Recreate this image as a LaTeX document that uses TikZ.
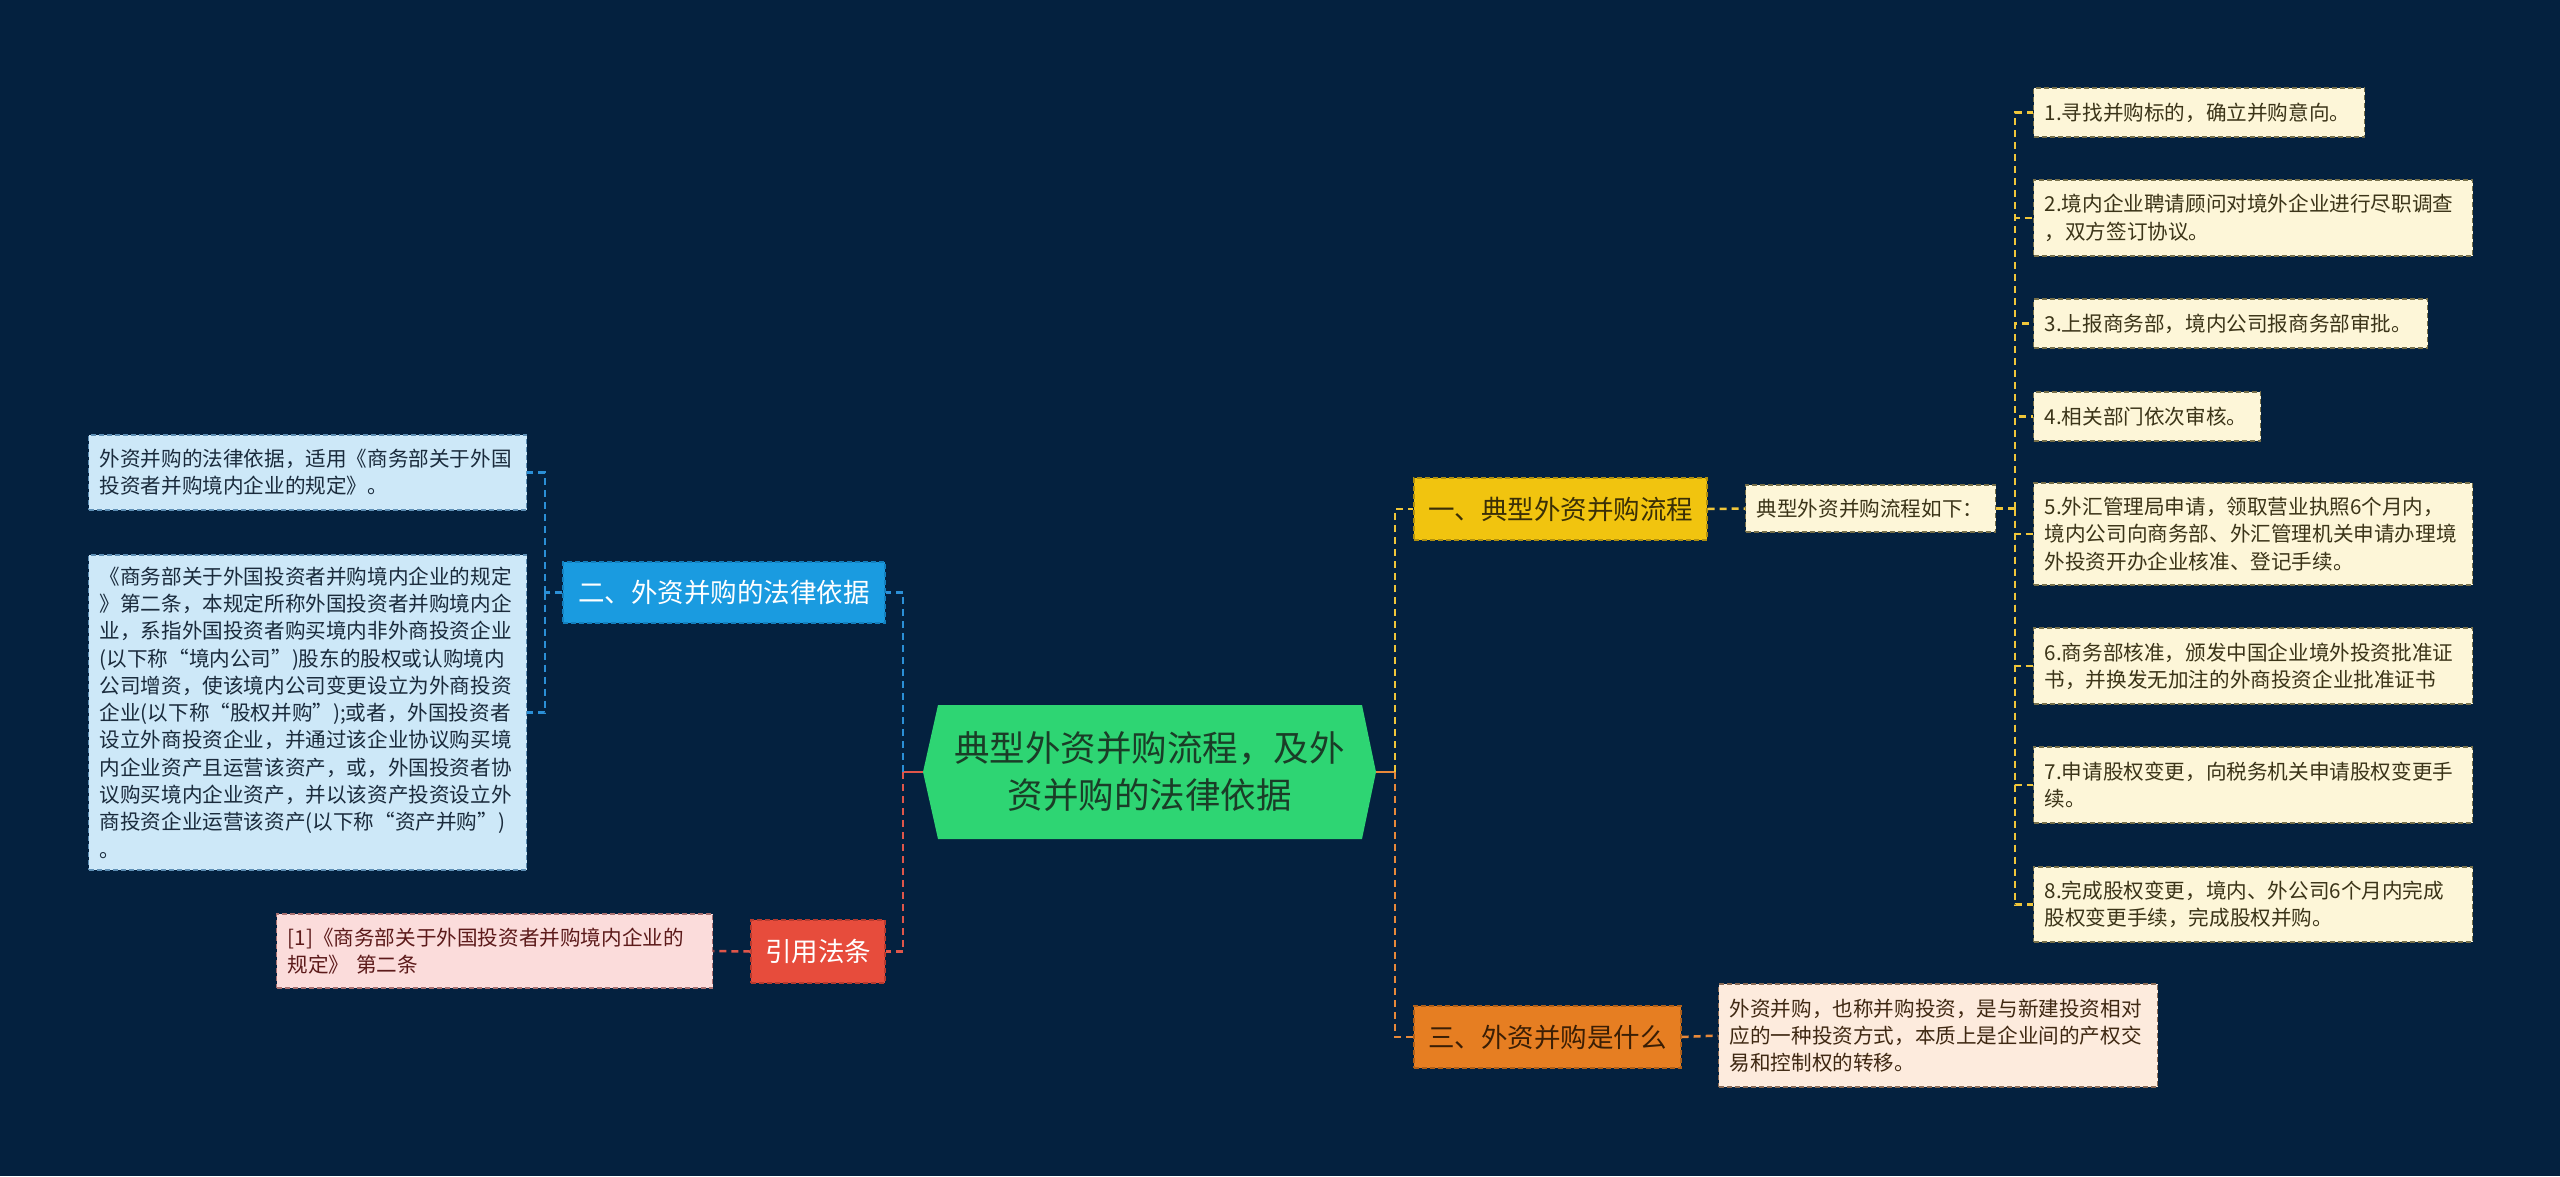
\documentclass[tikz,border=0pt]{standalone}
\usepackage{fontspec}
\setmainfont{Noto Sans CJK SC}
\definecolor{bg}{HTML}{04213F}
\definecolor{cgreen}{HTML}{2ED573}
\definecolor{ctext}{HTML}{1A3D27}
\definecolor{bnode}{HTML}{1A9BE0}
\definecolor{bnodeb}{HTML}{1380BF}
\definecolor{bleaf}{HTML}{CDE8F8}
\definecolor{bleafb}{HTML}{5E8FB5}
\definecolor{bleaft}{HTML}{1A2B3C}
\definecolor{bconnc}{HTML}{2B8FD6}
\definecolor{rnode}{HTML}{E74C3C}
\definecolor{rnodeb}{HTML}{B83A2E}
\definecolor{rleaf}{HTML}{FBDCDB}
\definecolor{rleafb}{HTML}{A87070}
\definecolor{rleaft}{HTML}{5C1A1A}
\definecolor{rconnc}{HTML}{E0564A}
\definecolor{ynode}{HTML}{F1C40F}
\definecolor{ynodeb}{HTML}{B0900F}
\definecolor{ynodet}{HTML}{3A2F07}
\definecolor{yleaf}{HTML}{FDF6D8}
\definecolor{yleafb}{HTML}{77704A}
\definecolor{yleaft}{HTML}{3B3418}
\definecolor{yconnc}{HTML}{F0C63A}
\definecolor{onode}{HTML}{E67E22}
\definecolor{onodeb}{HTML}{B05F18}
\definecolor{onodet}{HTML}{3A1E05}
\definecolor{oleaf}{HTML}{FDEBDD}
\definecolor{oleafb}{HTML}{8A6A55}
\definecolor{oleaft}{HTML}{3F2812}
\definecolor{oconnc}{HTML}{E8893A}
\begin{document}
\begin{tikzpicture}[x=1pt,y=-1pt,
  conn/.style={line width=2.5pt, dash pattern=on 7pt off 5pt},
  box/.style={inner xsep=11pt, inner ysep=0pt, dash pattern=on 5pt off 3pt, line width=1.3pt},
  leaf/.style={box, anchor=west, align=left, text width=#1, font=\fontsize{20.6}{27.3}\selectfont},
  topic/.style={box, align=center, font=\fontsize{26.5}{32}\selectfont},
  bleafs/.style={leaf=#1, fill=bleaf, draw=bleafb, text=bleaft},
  rleafs/.style={leaf=#1, fill=rleaf, draw=rleafb, text=rleaft},
  yleafs/.style={leaf=#1, fill=yleaf, draw=yleafb, text=yleaft},
  oleafs/.style={leaf=#1, fill=oleaf, draw=oleafb, text=oleaft},
]
\useasboundingbox (0,0) rectangle (2560,1176);
\fill[bg] (0,0) rectangle (2560,1176);

% central topic
\fill[cgreen] (938,705) -- (1362,705) -- (1376,772) -- (1362,839) -- (938,839) -- (923,772) -- cycle;
\node[minimum width=453pt, minimum height=134pt, inner sep=0pt, align=center, text=ctext,
      font=\fontsize{35.5}{47}\selectfont] (c) at (1149.5,772) {典型外资并购流程，及外\\资并购的法律依据};

% main topics
\node[topic, fill=bnode, draw=bnodeb, text=white, minimum width=322pt, minimum height=61pt] (b) at (724,592.5) {二、外资并购的法律依据};
\node[topic, fill=rnode, draw=rnodeb, text=white, minimum width=134pt, minimum height=63pt] (r) at (818,951.5) {引用法条};
\node[topic, fill=ynode, draw=ynodeb, text=ynodet, minimum width=293pt, minimum height=62pt] (y) at (1560.5,509) {一、典型外资并购流程};
\node[topic, fill=onode, draw=onodeb, text=onodet, minimum width=267pt, minimum height=62pt] (o) at (1547.5,1037) {三、外资并购是什么};

% blue leaves
\node[bleafs=416pt, minimum height=75pt] (bA) at (88,472.5)
 {外资并购的法律依据，适用《商务部关于外国\\投资者并购境内企业的规定》。};
\node[bleafs=416pt, minimum height=315pt] (bB) at (88,712.5)
 {《商务部关于外国投资者并购境内企业的规定\\》第二条，本规定所称外国投资者并购境内企\\业，系指外国投资者购买境内非外商投资企业\\(以下称“境内公司”)股东的股权或认购境内\\公司增资，使该境内公司变更设立为外商投资\\企业(以下称“股权并购”);或者，外国投资者\\设立外商投资企业，并通过该企业协议购买境\\内企业资产且运营该资产，或，外国投资者协\\议购买境内企业资产，并以该资产投资设立外\\商投资企业运营该资产(以下称“资产并购”)\\。};

% red leaf
\node[rleafs=414pt, minimum height=74pt] (pk) at (276,951)
 {[1]《商务部关于外国投资者并购境内企业的\\规定》 第二条};

% yellow leaves
\node[yleafs=228pt, minimum height=47pt] (rx) at (1745,508.5) {典型外资并购流程如下：};
\node[yleafs=309pt, minimum height=49pt] (i1) at (2033,112.5) {1.寻找并购标的，确立并购意向。};
\node[yleafs=417pt, minimum height=76pt] (i2) at (2033,218) {2.境内企业聘请顾问对境外企业进行尽职调查\\，双方签订协议。};
\node[yleafs=372pt, minimum height=49pt] (i3) at (2033,323.5) {3.上报商务部，境内公司报商务部审批。};
\node[yleafs=205pt, minimum height=49pt] (i4) at (2033,416.5) {4.相关部门依次审核。};
\node[yleafs=417pt, minimum height=102pt] (i5) at (2033,534) {5.外汇管理局申请，领取营业执照6个月内，\\境内公司向商务部、外汇管理机关申请办理境\\外投资开办企业核准、登记手续。};
\node[yleafs=417pt, minimum height=76pt] (i6) at (2033,666) {6.商务部核准，颁发中国企业境外投资批准证\\书，并换发无加注的外商投资企业批准证书};
\node[yleafs=417pt, minimum height=76pt] (i7) at (2033,785) {7.申请股权变更，向税务机关申请股权变更手\\续。};
\node[yleafs=417pt, minimum height=75pt] (i8) at (2033,904.5) {8.完成股权变更，境内、外公司6个月内完成\\股权变更手续，完成股权并购。};

% orange leaf
\node[oleafs=417pt, minimum height=103pt] (oc) at (1718,1035.5)
 {外资并购，也称并购投资，是与新建投资相对\\应的一种投资方式，本质上是企业间的产权交\\易和控制权的转移。};

% connectors
\coordinate (jl) at (903,772);
\coordinate (jr) at (1395,772);
\coordinate (bj) at (545,592.5);
\coordinate (yj) at (2015,508.5);
\draw[rconnc, line width=2.5pt] (c.west) -- (jl);
\draw[oconnc, line width=2.5pt] (c.east) -- (jr);
\draw[conn, bconnc] (jl) |- (b.east);
\draw[conn, rconnc] (jl) |- (r.east);
\draw[conn, yconnc] (jr) |- (y.west);
\draw[conn, oconnc] (jr) |- (o.west);
\draw[conn, bconnc] (b.west) -- (bj);
\draw[conn, bconnc] (bj) |- (bA.east);
\draw[conn, bconnc] (bj) |- (bB.east);
\draw[conn, rconnc] (r.west) -- (pk.east);
\draw[conn, yconnc] (y.east) -- (rx.west);
\draw[conn, yconnc] (rx.east) -- (yj);
\foreach \n in {i1,i2,i3,i4,i5,i6,i7,i8} {\draw[conn, yconnc] (yj) |- (\n.west);}
\draw[conn, oconnc] (o.east) -- (oc.west);
\end{tikzpicture}
\end{document}
